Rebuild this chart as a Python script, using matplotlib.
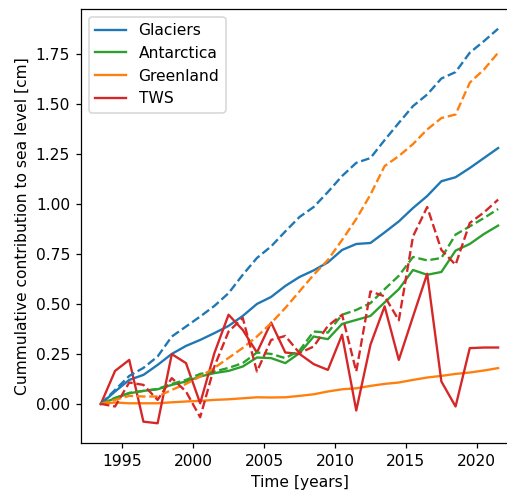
import numpy as np
import matplotlib
matplotlib.use("Agg")
import matplotlib.pyplot as plt

years = np.arange(1993.5, 2022.0, 1.0)

glaciers = [0, 0.062, 0.12, 0.145, 0.195, 0.25, 0.29, 0.32, 0.354, 0.39, 0.44, 0.50, 0.535,
            0.59, 0.635, 0.668, 0.708, 0.77, 0.80, 0.805, 0.858, 0.913, 0.98, 1.04, 1.114,
            1.134, 1.18, 1.23, 1.28]
glaciers_dash = [0, 0.07, 0.14, 0.18, 0.237, 0.337, 0.387, 0.437, 0.49, 0.554, 0.646, 0.73,
                 0.788, 0.863, 0.935, 0.985, 1.06, 1.14, 1.206, 1.23, 1.32, 1.406, 1.49, 1.548,
                 1.628, 1.66, 1.757, 1.815, 1.877]

antarctica = [0, 0.028, 0.053, 0.065, 0.073, 0.095, 0.112, 0.137, 0.154, 0.165, 0.187, 0.232,
              0.229, 0.204, 0.254, 0.337, 0.324, 0.40, 0.42, 0.44, 0.508, 0.574, 0.67, 0.646,
              0.66, 0.767, 0.80, 0.85, 0.892]
antarctica_dash = [0, 0.03, 0.055, 0.065, 0.075, 0.10, 0.12, 0.15, 0.162, 0.18, 0.204, 0.257,
                   0.25, 0.229, 0.267, 0.362, 0.357, 0.446, 0.47, 0.504, 0.574, 0.641, 0.735,
                   0.718, 0.73, 0.847, 0.888, 0.93, 0.975]

greenland = [0, 0.007, 0.003, 0.003, 0.003, 0.008, 0.012, 0.015, 0.02, 0.023, 0.028, 0.033,
             0.032, 0.033, 0.04, 0.048, 0.062, 0.073, 0.078, 0.09, 0.10, 0.107, 0.12, 0.132,
             0.14, 0.15, 0.157, 0.167, 0.179]
greenland_dash = [0, 0.02, 0.04, 0.037, 0.037, 0.07, 0.10, 0.137, 0.18, 0.23, 0.28, 0.337,
                  0.404, 0.48, 0.563, 0.646, 0.72, 0.82, 0.925, 1.047, 1.19, 1.24, 1.30, 1.373,
                  1.43, 1.448, 1.607, 1.673, 1.757]

tws = [0, 0.165, 0.22, -0.089, -0.097, 0.249, 0.204, 0.003, 0.254, 0.446, 0.37, 0.257, 0.407,
       0.257, 0.25, 0.199, 0.17, 0.346, -0.033, 0.296, 0.488, 0.22, 0.437, 0.651, 0.112,
       -0.013, 0.279, 0.282, 0.282]
tws_dash = [0, -0.013, 0.107, 0.095, 0.02, 0.129, 0.062, -0.067, 0.187, 0.362, 0.43, 0.162,
            0.32, 0.34, 0.254, 0.287, 0.39, 0.446, 0.162, 0.563, 0.538, 0.418, 0.838, 0.985,
            0.77, 0.696, 0.905, 0.958, 1.022]

labels = ["Glaciers", "Antarctica", "Greenland", "TWS"]
colors = ["#1f77b4", "#2ca02c", "#ff7f0e", "#d62728"]
solid = [glaciers, antarctica, greenland, tws]
dashed = [glaciers_dash, antarctica_dash, greenland_dash, tws_dash]

DPI = 112
fig = plt.figure(figsize=(507 / DPI, 493 / DPI), dpi=DPI)
ax = fig.add_axes([81 / 507, 1 - 443 / 493, (518 - 81) / 507, (443 - 9) / 493])

for lab, c, s in zip(labels, colors, solid):
    ax.plot(years, s, color=c, lw=1.5, label=lab)
for c, d in zip(colors, dashed):
    ax.plot(years, d, color=c, lw=1.5, ls="--")

ax.set_xlabel("Time [years]")
ax.set_ylabel("Cummulative contribution to sea level [cm]")
ax.legend(loc="upper left")

fig.savefig("out.png", dpi=DPI)
